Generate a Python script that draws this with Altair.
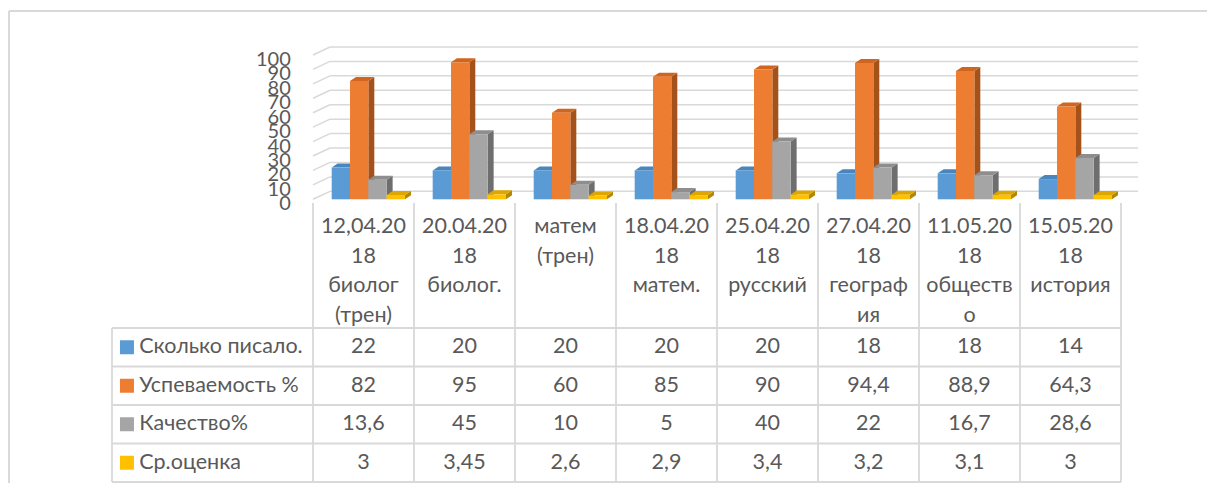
import altair as alt
import pandas as pd

category_lines = [
    ["12,04.20", "18", "биолог", "(трен)"],
    ["20.04.20", "18", "биолог."],
    ["матем", "(трен)"],
    ["18.04.20", "18", "матем."],
    ["25.04.20", "18", "русский"],
    ["27.04.20", "18", "географ", "ия"],
    ["11.05.20", "18", "обществ", "о"],
    ["15.05.20", "18", "история"],
]
series_names = ["Сколько писало.", "Успеваемость %", "Качество%", "Ср.оценка"]
pisalo = [22, 20, 20, 20, 20, 18, 18, 14]
uspevaemost = [82, 95, 60, 85, 90, 94.4, 88.9, 64.3]
kachestvo = [13.6, 45, 10, 5, 40, 22, 16.7, 28.6]
ocenka = [3, 3.45, 2.6, 2.9, 3.4, 3.2, 3.1, 3]
series_values = [pisalo, uspevaemost, kachestvo, ocenka]
y_ticks = [0, 10, 20, 30, 40, 50, 60, 70, 80, 90, 100]

front_colors = ["#5B9BD5", "#ED7D31", "#A5A5A5", "#FFC000"]
top_colors = ["#4A86BE", "#D0651F", "#8E8E8E", "#DDA600"]
side_colors = ["#3A6C9C", "#A4521A", "#6E6E6E", "#B48700"]
TEXT = "#595959"
LINE = "#D9D9D9"
FONT = "Lato"

W, H = 1193, 472
xs = alt.Scale(domain=[0, 8], range=[304, 1112], nice=False, zero=False)
ys_bar = alt.Scale(domain=[0, 100], range=[188.3, 44], nice=False, zero=False)
ys_tab = alt.Scale(domain=[0, 4], range=[317, 471], nice=False, zero=False)

BAR_START = 0.185
BAR_W = 0.1815
DX = 0.059
DV = 2.77
WALL_DX = 0.168
WALL_DV = 5.54

fronts, sides, tops = [], [], []
for i in range(8):
    for s in range(4):
        v = series_values[s][i]
        x0 = i + BAR_START + s * BAR_W
        x1 = x0 + BAR_W
        bid = f"{i}-{s}"
        fronts.append(dict(x=x0, x2=x1, y=v, y2=0, c=front_colors[s]))
        sides.append(dict(id=bid, x=x1, y=v, y2=0, c=side_colors[s]))
        sides.append(dict(id=bid, x=x1 + DX, y=v + DV, y2=DV, c=side_colors[s]))
        tops.append(dict(id=bid, y=v, x=x0, x2=x1, c=top_colors[s]))
        tops.append(dict(id=bid, y=v + DV, x=x0 + DX, x2=x1 + DX, c=top_colors[s]))
fronts = pd.DataFrame(fronts)
sides = pd.DataFrame(sides)
tops = pd.DataFrame(tops)

grid = []
for v in y_ticks:
    grid.append(dict(x=WALL_DX, x2=8 + WALL_DX, y=v + WALL_DV, y2=v + WALL_DV))
    grid.append(dict(x=0, x2=WALL_DX, y=v, y2=v + WALL_DV))
grid = pd.DataFrame(grid)

ylab = pd.DataFrame(dict(v=y_ticks, t=[str(v) for v in y_ticks], x=[-0.22] * len(y_ticks)))

tlines = []
for r in range(5):
    tlines.append(dict(x=-1.99, x2=8, y=r, y2=r))
tlines.append(dict(x=-1.99, x2=-1.99, y=0, y2=4))
for c in range(9):
    tlines.append(dict(x=c, x2=c, y=-3.25, y2=4))
tlines = pd.DataFrame(tlines)

header = []
for i, lines in enumerate(category_lines):
    for j, t in enumerate(lines):
        header.append(dict(x=i + 0.5, y=-2.62 + j * 0.766, t=t))
header = pd.DataFrame(header)

rowlab = pd.DataFrame(dict(
    r=[k + 0.5 for k in range(4)], t=series_names, c=front_colors,
    xs=[-1.842] * 4, xt=[-1.72] * 4))

vals = []
for s in range(4):
    for i in range(8):
        vals.append(dict(x=i + 0.5, y=s + 0.5,
                         t=f"{series_values[s][i]:g}".replace(".", ",")))
vals = pd.DataFrame(vals)

def X(f):
    return alt.X(f, scale=xs, axis=None)

border = alt.Chart(pd.DataFrame({"a": [0]})).mark_rule(color=LINE, strokeWidth=2).encode(
    x=alt.value(0), x2=alt.value(W + 5), y=alt.value(0), y2=alt.value(0))
border2 = alt.Chart(pd.DataFrame({"a": [0]})).mark_rule(color=LINE, strokeWidth=2).encode(
    x=alt.value(0), x2=alt.value(0), y=alt.value(0), y2=alt.value(H))

grid_l = alt.Chart(grid).mark_rule(color=LINE, strokeWidth=1.5).encode(
    x=X("x:Q"), x2="x2:Q", y=alt.Y("y:Q", scale=ys_bar, axis=None), y2="y2:Q")

side_l = alt.Chart(sides).mark_area(orient="vertical").encode(
    x=X("x:Q"), y=alt.Y("y:Q", scale=ys_bar, axis=None), y2="y2:Q",
    color=alt.Color("c:N", scale=None), detail="id:N")

top_l = alt.Chart(tops).mark_area(orient="horizontal").encode(
    y=alt.Y("y:Q", scale=ys_bar, axis=None), x=X("x:Q"), x2="x2:Q",
    color=alt.Color("c:N", scale=None), detail="id:N")

front_l = alt.Chart(fronts).mark_rect().encode(
    x=X("x:Q"), x2="x2:Q", y=alt.Y("y:Q", scale=ys_bar, axis=None), y2="y2:Q",
    color=alt.Color("c:N", scale=None))

ylab_l = alt.Chart(ylab).mark_text(align="right", baseline="middle", dy=5,
                                   font=FONT, fontSize=20, color=TEXT).encode(
    x=X("x:Q"), y=alt.Y("v:Q", scale=ys_bar, axis=None), text="t:N")

tline_l = alt.Chart(tlines).mark_rule(color=LINE, strokeWidth=1.8).encode(
    x=X("x:Q"), x2="x2:Q", y=alt.Y("y:Q", scale=ys_tab, axis=None), y2="y2:Q")

header_l = alt.Chart(header).mark_text(align="center", baseline="middle",
                                       font=FONT, fontSize=21.5, color=TEXT).encode(
    x=X("x:Q"), y=alt.Y("y:Q", scale=ys_tab, axis=None), text="t:N")

sq_l = alt.Chart(rowlab).mark_square(size=196, opacity=1).encode(
    x=X("xs:Q"), y=alt.Y("r:Q", scale=ys_tab, axis=None),
    color=alt.Color("c:N", scale=None))

rowt_l = alt.Chart(rowlab).mark_text(align="left", baseline="middle",
                                     font=FONT, fontSize=21.5, color=TEXT).encode(
    x=X("xt:Q"), y=alt.Y("r:Q", scale=ys_tab, axis=None), text="t:N")

vals_l = alt.Chart(vals).mark_text(align="center", baseline="middle",
                                   font=FONT, fontSize=21.5, color=TEXT).encode(
    x=X("x:Q"), y=alt.Y("y:Q", scale=ys_tab, axis=None), text="t:N")

chart = alt.layer(
    border, border2, grid_l, side_l, top_l, front_l, ylab_l,
    tline_l, header_l, sq_l, rowt_l, vals_l
).resolve_scale(
    x="independent", y="independent", color="independent"
).properties(
    width=W, height=H,
    padding={"left": 1, "top": 3, "right": 5, "bottom": 0},
    autosize=alt.AutoSizeParams(type="none"),
).configure_view(strokeOpacity=0, strokeWidth=0)

chart.save("out.html", embed_options={"renderer": "svg", "actions": False})
